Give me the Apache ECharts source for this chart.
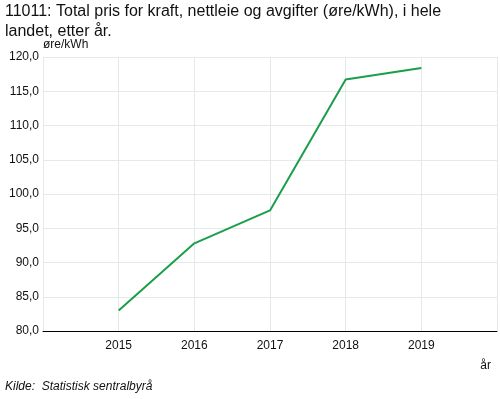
<!DOCTYPE html>
<html>
<head>
<meta charset="utf-8">
<script src="https://cdn.jsdelivr.net/npm/echarts@6/dist/echarts.min.js"></script>
<style>
  html, body { margin: 0; padding: 0; background: #fff; }
  #chart { width: 500px; height: 399px; }
</style>
</head>
<body>
<div id="chart"></div>
<script>
var years = [2015, 2016, 2017, 2018, 2019];
var pris = [83.0, 92.8, 97.6, 116.7, 118.4];

var chart = echarts.init(document.getElementById('chart'));

var font = 'Liberation Sans, Arial, sans-serif';
var option = {
    animation: false,
    textStyle: { fontFamily: font },
    title: [
        {
            text: '11011: Total pris for kraft, nettleie og avgifter (øre/kWh), i hele\nlandet, etter år.',
            left: 0,
            top: -3,
            textStyle: { fontSize: 16, fontWeight: 'normal', color: '#111', lineHeight: 20, fontFamily: font }
        },
        {
            text: 'år',
            right: 4,
            top: 355,
            textStyle: { fontSize: 12, fontWeight: 'normal', color: '#111', fontFamily: font }
        },
        {
            text: 'Kilde:  Statistisk sentralbyrå',
            left: 0,
            top: 376,
            textStyle: { fontSize: 12, fontWeight: 'normal', fontStyle: 'italic', color: '#111', fontFamily: font }
        }
    ],
    grid: { left: 43, right: 3, top: 57, bottom: 68 },
    xAxis: {
        type: 'value',
        min: 2014,
        max: 2020,
        interval: 1,
        axisLine: { lineStyle: { color: '#000', width: 1 } },
        axisTick: { show: false },
        splitLine: { show: true, lineStyle: { color: '#e6e9e9' } },
        axisLabel: {
            color: '#111',
            fontSize: 12,
            margin: 9,
            formatter: function (v) {
                return (v === 2014 || v === 2020) ? '' : String(v);
            }
        }
    },
    yAxis: {
        type: 'value',
        min: 80,
        max: 120,
        interval: 5,
        name: 'øre/kWh',
        nameLocation: 'end',
        nameGap: 4,
        nameTextStyle: { align: 'left', color: '#111', fontSize: 12 },
        axisLine: { show: false },
        axisTick: { show: false },
        splitLine: { lineStyle: { color: '#e6e9e9' } },
        axisLabel: {
            color: '#111',
            fontSize: 12,
            margin: 4,
            formatter: function (v) { return v.toFixed(1).replace('.', ','); }
        }
    },
    series: [{
        type: 'line',
        data: years.map(function (y, i) { return [y, pris[i]]; }),
        showSymbol: false,
        lineStyle: { color: '#1a9e4a', width: 2 },
        itemStyle: { color: '#1a9e4a' }
    }]
};
chart.setOption(option);
</script>
</body>
</html>
